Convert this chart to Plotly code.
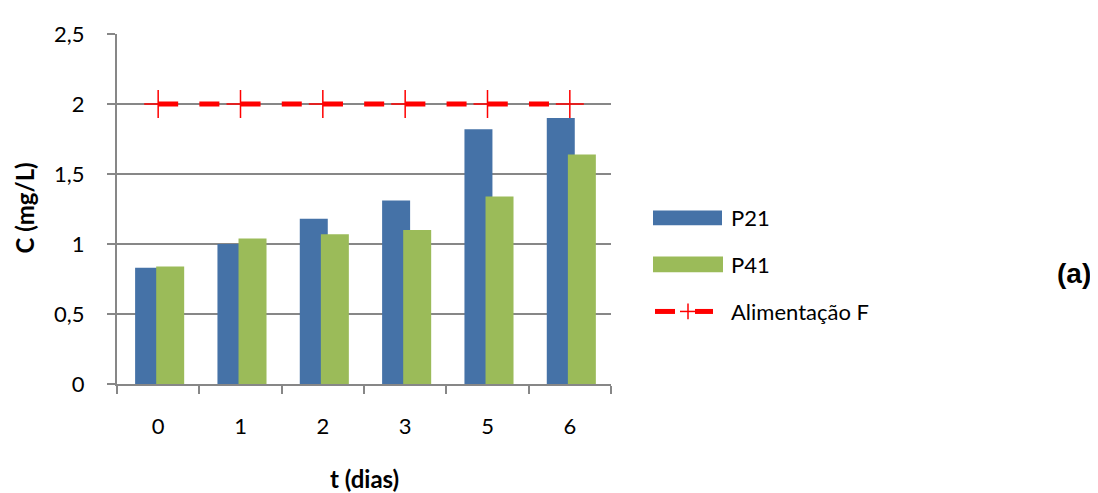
import plotly.graph_objects as go

categories = ["0", "1", "2", "3", "5", "6"]
p21 = [0.83, 1.00, 1.18, 1.31, 1.82, 1.90]
p41 = [0.84, 1.04, 1.07, 1.10, 1.34, 1.64]
feed = [2, 2, 2, 2, 2, 2]
yticks = [0, 0.5, 1, 1.5, 2, 2.5]
yticklabels = ["0", "0,5", "1", "1,5", "2", "2,5"]

BLUE = "#4572A7"
GREEN = "#9BBB59"
RED = "#FF0000"
GRID = "#878787"
FONT = "Lato"

OFF = 8  # page body margin
L, R, T, B = 117, 611, 27, 384
W, H = 1098 - OFF, 493 - OFF
pw, ph = R - L, B - T

def px(x):
    return (x - L) / pw

def py(y):
    return (B - y) / ph

fig = go.Figure()
fig.add_trace(go.Bar(x=categories, y=p21, name="P21", marker=dict(color=BLUE, line=dict(width=0)),
                     offset=-0.28, width=0.34))
fig.add_trace(go.Bar(x=categories, y=p41, name="P41", marker=dict(color=GREEN, line=dict(width=0)),
                     offset=-0.024, width=0.34))
fig.add_trace(go.Scatter(x=categories, y=feed, name="Alimentação F", mode="lines+markers",
                         line=dict(color=RED, width=5, dash="20px,21.2px"),
                         marker=dict(symbol="cross-thin", size=20, line=dict(color=RED, width=1.5))))

shapes = []
annotations = []
# Legend (drawn manually)
shapes.append(dict(type="rect", xref="paper", yref="paper", x0=px(653), x1=px(722), y0=py(222), y1=py(207),
                   fillcolor=BLUE, line=dict(width=0)))
shapes.append(dict(type="rect", xref="paper", yref="paper", x0=px(653), x1=px(723), y0=py(270), y1=py(254),
                   fillcolor=GREEN, line=dict(width=0)))
shapes.append(dict(type="line", xref="paper", yref="paper", x0=px(655), x1=px(675), y0=py(310), y1=py(310),
                   line=dict(color=RED, width=5)))
shapes.append(dict(type="line", xref="paper", yref="paper", x0=px(695), x1=px(713), y0=py(310), y1=py(310),
                   line=dict(color=RED, width=5)))
shapes.append(dict(type="line", xref="paper", yref="paper", x0=px(680), x1=px(696), y0=py(310), y1=py(310),
                   line=dict(color=RED, width=1.5)))
shapes.append(dict(type="line", xref="paper", yref="paper", x0=px(688), x1=px(688), y0=py(302), y1=py(318),
                   line=dict(color=RED, width=1.5)))
for txt, yy in [("P21", 214), ("P41", 262), ("Alimentação F", 310)]:
    annotations.append(dict(text=txt, xref="paper", yref="paper", x=px(729), y=py(yy), xanchor="left",
                            yanchor="middle", showarrow=False, font=dict(family=FONT, size=22, color="#000")))
annotations.append(dict(text="<b>(a)</b>", xref="paper", yref="paper", x=px(1074), y=py(271), xanchor="center",
                        yanchor="middle", showarrow=False, font=dict(family="Liberation Sans", size=28, color="#000")))
annotations.append(dict(text="<b>C (mg/L)</b>", xref="paper", yref="paper", x=px(25), y=py(205), xanchor="center",
                        yanchor="middle", textangle=-90, showarrow=False, font=dict(family=FONT, size=24, color="#000")))
annotations.append(dict(text="<b>t (dias)</b>", xref="paper", yref="paper", x=px(364), y=py(480), xanchor="center",
                        yanchor="middle", showarrow=False, font=dict(family=FONT, size=24, color="#000")))

fig.update_layout(
    width=W, height=H,
    margin=dict(l=L - OFF, r=1098 - R, t=T - OFF, b=493 - B, pad=0),
    barmode="overlay",
    showlegend=False,
    plot_bgcolor="white", paper_bgcolor="white",
    font=dict(family=FONT, size=22, color="#000"),
    shapes=shapes, annotations=annotations,
    xaxis=dict(type="category", showgrid=False, showline=True, linecolor=GRID, linewidth=2,
               ticks="outside", tickson="boundaries", ticklen=8, tickcolor=GRID, tickwidth=2,
               ticklabelstandoff=22, tickfont=dict(family=FONT, size=22), range=[-0.5, 5.5]),
    yaxis=dict(range=[0, 2.5], tickvals=yticks, ticktext=yticklabels, showgrid=True, gridcolor=GRID, gridwidth=1.5,
               showline=True, linecolor=GRID, linewidth=2, ticks="outside", ticklen=8, tickcolor=GRID, tickwidth=1.5,
               ticklabelstandoff=18, zeroline=False, tickfont=dict(family=FONT, size=22)),
)

fig.write_html("out.html")
